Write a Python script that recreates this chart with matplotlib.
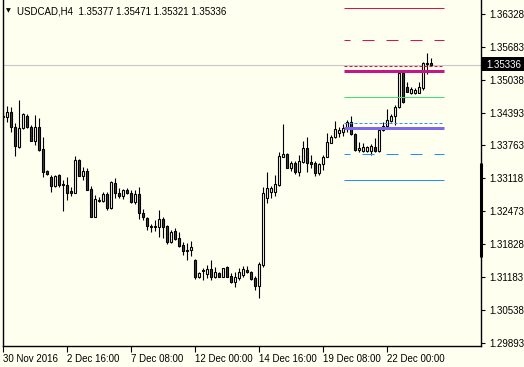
import numpy as np
import matplotlib.pyplot as plt
from matplotlib.patches import Rectangle

plt.rcParams['font.family'] = ['Liberation Sans', 'DejaVu Sans']
plt.rcParams['lines.scale_dashes'] = False

# USDCAD H4 candles, 30 Nov 2016 00:00 .. 23 Dec 2016 20:00
opens = [1.34313, 1.34313, 1.34411, 1.34118, 1.33727, 1.34098, 1.34333, 1.34118, 1.33844, 1.34118,
         1.33688, 1.33257, 1.33140, 1.32964, 1.33179, 1.33003, 1.32983, 1.32866, 1.32827, 1.33472,
         1.33159, 1.33257, 1.32905, 1.32357, 1.32690, 1.32670, 1.32807, 1.32534, 1.33022, 1.32827,
         1.32768, 1.32886, 1.32827, 1.32651, 1.32807, 1.32436, 1.32338, 1.32181, 1.32162, 1.32162,
         1.32318, 1.32181, 1.31868, 1.32084, 1.31947, 1.31810, 1.31692, 1.31712, 1.31516, 1.31184,
         1.31301, 1.31242, 1.31340, 1.31184, 1.31262, 1.31184, 1.31379, 1.31203, 1.31086, 1.31164,
         1.31223, 1.31320, 1.31281, 1.31164, 1.31008, 1.31418, 1.32729, 1.32846, 1.32846, 1.32983,
         1.33531, 1.33590, 1.33316, 1.33414, 1.33238, 1.33433, 1.33707, 1.33433, 1.33414, 1.33218,
         1.33394, 1.33531, 1.33805, 1.33922, 1.34000, 1.34020, 1.34098, 1.34216, 1.33981, 1.33668,
         1.33648, 1.33648, 1.33648, 1.33727, 1.33648, 1.34059, 1.34137, 1.34235, 1.34333, 1.34509,
         1.35174, 1.34900, 1.34783, 1.34783, 1.34783, 1.34881, 1.35370, 1.35377]
highs = [1.34392, 1.34529, 1.34509, 1.34196, 1.34646, 1.34392, 1.34372, 1.34157, 1.34353, 1.34294,
         1.33922, 1.33277, 1.33179, 1.33179, 1.33199, 1.33081, 1.33140, 1.32944, 1.33551, 1.33492,
         1.33335, 1.33316, 1.32964, 1.32788, 1.32749, 1.32846, 1.32846, 1.33062, 1.33120, 1.32925,
         1.32905, 1.32925, 1.32886, 1.32886, 1.32944, 1.32514, 1.32357, 1.32220, 1.32299, 1.32494,
         1.32357, 1.32201, 1.32103, 1.32142, 1.32064, 1.31868, 1.31849, 1.31888, 1.31536, 1.31281,
         1.31360, 1.31418, 1.31516, 1.31379, 1.31281, 1.31360, 1.31399, 1.31262, 1.31281, 1.31360,
         1.31399, 1.31399, 1.31301, 1.31203, 1.31477, 1.32944, 1.33238, 1.32964, 1.33179, 1.33629,
         1.34176, 1.33609, 1.33453, 1.33453, 1.33570, 1.33844, 1.33922, 1.33570, 1.33453, 1.33414,
         1.33570, 1.34000, 1.33961, 1.34235, 1.34118, 1.34176, 1.34255, 1.34333, 1.34000, 1.33824,
         1.33805, 1.33746, 1.33785, 1.33903, 1.34098, 1.34216, 1.34470, 1.34372, 1.34548, 1.35194,
         1.35194, 1.34998, 1.34900, 1.34881, 1.34998, 1.35389, 1.35565, 1.35471]
lows = [1.34196, 1.34216, 1.34020, 1.33551, 1.33707, 1.34079, 1.34098, 1.33844, 1.33766, 1.33648,
        1.33140, 1.33179, 1.32846, 1.32944, 1.32944, 1.32475, 1.32690, 1.32768, 1.32827, 1.33159,
        1.33081, 1.32886, 1.32357, 1.32357, 1.32651, 1.32651, 1.32494, 1.32514, 1.32729, 1.32729,
        1.32710, 1.32807, 1.32631, 1.32612, 1.32318, 1.32299, 1.32103, 1.32064, 1.32084, 1.31966,
        1.31947, 1.31829, 1.31849, 1.31908, 1.31771, 1.31614, 1.31516, 1.31595, 1.31145, 1.31164,
        1.31125, 1.31164, 1.31125, 1.31164, 1.31184, 1.31184, 1.31184, 1.31067, 1.30988, 1.31125,
        1.31184, 1.31262, 1.31125, 1.30930, 1.30773, 1.31379, 1.32631, 1.32729, 1.32768, 1.32964,
        1.33531, 1.33316, 1.33257, 1.33199, 1.33159, 1.33414, 1.33238, 1.33316, 1.33159, 1.33179,
        1.33277, 1.33531, 1.33805, 1.33903, 1.33922, 1.33942, 1.34020, 1.33961, 1.33648, 1.33629,
        1.33629, 1.33629, 1.33570, 1.33629, 1.33629, 1.34040, 1.34098, 1.34216, 1.34157, 1.34489,
        1.34587, 1.34803, 1.34763, 1.34763, 1.34783, 1.34842, 1.35155, 1.35321]
closes = [1.34333, 1.34411, 1.34118, 1.33746, 1.34098, 1.34372, 1.34118, 1.33844, 1.34118, 1.33668,
          1.33238, 1.33199, 1.32964, 1.33159, 1.32983, 1.32983, 1.32827, 1.32827, 1.33472, 1.33159,
          1.33257, 1.32886, 1.32357, 1.32710, 1.32670, 1.32807, 1.32534, 1.33042, 1.32827, 1.32768,
          1.32886, 1.32827, 1.32651, 1.32807, 1.32436, 1.32357, 1.32181, 1.32162, 1.32181, 1.32318,
          1.32162, 1.31868, 1.32064, 1.31927, 1.31790, 1.31692, 1.31712, 1.31771, 1.31184, 1.31262,
          1.31320, 1.31340, 1.31184, 1.31281, 1.31184, 1.31360, 1.31184, 1.31086, 1.31184, 1.31281,
          1.31340, 1.31281, 1.31145, 1.31008, 1.31438, 1.32827, 1.32925, 1.32925, 1.33003, 1.33551,
          1.33590, 1.33316, 1.33414, 1.33238, 1.33453, 1.33707, 1.33414, 1.33394, 1.33218, 1.33394,
          1.33531, 1.33824, 1.33922, 1.34079, 1.34059, 1.34098, 1.34216, 1.33981, 1.33668, 1.33707,
          1.33727, 1.33727, 1.33746, 1.33648, 1.34059, 1.34137, 1.34255, 1.34333, 1.34509, 1.35174,
          1.34607, 1.34803, 1.34861, 1.34842, 1.34900, 1.35370, 1.35350, 1.35336]

# horizontal levels drawn on the right part of the chart
level_prices = [1.36446, 1.35820, 1.35311, 1.35213, 1.34705, 1.34196, 1.34098, 1.33590, 1.33081]
level_from, level_to = 85.2, 110.2

price_ticks = [1.36328, 1.35683, 1.35038, 1.34393, 1.33763, 1.33118,
               1.32473, 1.31828, 1.31183, 1.30538, 1.29893]
date_ticks = [0, 16, 32, 48, 64, 80, 96]
date_labels = ['30 Nov 2016', '2 Dec 16:00', '7 Dec 08:00', '12 Dec 00:00',
               '14 Dec 16:00', '19 Dec 08:00', '22 Dec 00:00']
last_price = 1.35336
header = 'USDCAD,H4  1.35377 1.35471 1.35321 1.35336'

bg = '#fffff0'
W, H = 524, 367
fig = plt.figure(figsize=(W / 100, H / 100), dpi=100, facecolor=bg)
ax = fig.add_axes([2.5 / W, 21 / H, (481 - 2.5) / W, 346 / H], facecolor=bg)

# candles
x = np.arange(len(opens))
o = np.array(opens)
c = np.array(closes)
up = c >= o
ax.vlines(x, lows, highs, color='black', lw=0.8, zorder=3)
ax.bar(x[up], (c - o)[up], bottom=o[up], width=0.5, facecolor=bg,
       edgecolor='black', lw=0.8, zorder=4)
ax.bar(x[~up], (o - c)[~up], bottom=c[~up], width=0.5, facecolor='#404040',
       edgecolor='black', lw=0.8, zorder=4)

# current price line
ax.axhline(last_price, color='#c8c8c8', lw=0.8, zorder=1)

# levels: colour, linestyle, width
px = 0.72
long_dash = (6 * px, (12 * px, 12 * px))
short_dash = (0, (3 * px, 2 * px))
level_looks = [('#dc143c', '-', 1), ('#dc143c', long_dash, 1), ('#dc143c', short_dash, 1),
               ('#c71585', '-', 3), ('#3ee07a', '-', 1), ('#2f8ee8', short_dash, 1),
               ('#7b68ee', '-', 3), ('#1e90ff', long_dash, 1), ('#1e90ff', '-', 1)]
for p, (col, ls, w) in zip(level_prices, level_looks):
    ax.hlines(p, level_from, level_to, color=col, linestyle=ls, lw=w * px, zorder=5)

ax.set_xlim(-0.125, 119.5)
ax.set_ylim(1.36602 - 346 * 0.0001956, 1.36602)

# axes look like the terminal
ax.spines['top'].set_visible(False)
for s in ['left', 'right', 'bottom']:
    ax.spines[s].set_linewidth(1)
ax.yaxis.tick_right()
ax.set_yticks(price_ticks)
ax.set_yticklabels(['%.5f' % v for v in price_ticks])
ax.set_xticks(date_ticks)
ax.set_xticklabels(date_labels, ha='left')
ax.tick_params(axis='y', length=3, width=0.8, pad=3, labelsize=7)
ax.tick_params(axis='x', length=4, width=0.8, pad=2, labelsize=7)

# black marker on the price scale
ax.vlines(119.5, 1.31575, 1.33414, color='black', lw=2.2, clip_on=False, zorder=6)

# header
fig.text(6 / W, 1 - 11 / H, '\u25bc', fontsize=4.5, va='center', family=['DejaVu Sans'])
fig.text(17 / W, 1 - 11 / H, header, fontsize=7, va='center')

# last price box
fig.patches.append(Rectangle((482 / W, 1 - 71 / H), 42 / W, 14 / H, transform=fig.transFigure,
                             facecolor='black', edgecolor='none'))
fig.text(486 / W, 1 - 64.5 / H, '%.5f' % last_price, color='white', fontsize=7, va='center')

fig.savefig('out.png', dpi=100, facecolor=bg)
